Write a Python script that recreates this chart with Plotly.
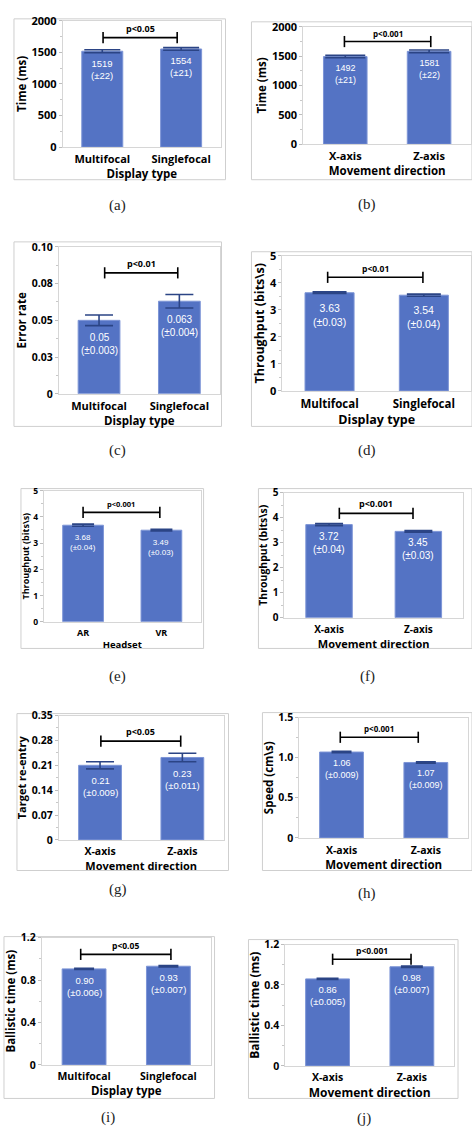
import plotly.graph_objects as go

W, H = 472, 1139

# ---------------- data ----------------
a_cats = ["Multifocal", "Singlefocal"]
a_vals = [1519, 1554]
a_errs = [22, 21]
a_text = ["1519<br>(±22)", "1554<br>(±21)"]
a_p = "p<0.05"

b_cats = ["X-axis", "Z-axis"]
b_vals = [1492, 1581]
b_errs = [21, 22]
b_text = ["1492<br>(±21)", "1581<br>(±22)"]
b_p = "p<0.001"

c_cats = ["Multifocal", "Singlefocal"]
c_vals = [0.050, 0.063]
c_errs = [0.0036, 0.0046]
c_text = ["0.05<br>(±0.003)", "0.063<br>(±0.004)"]
c_p = "p<0.01"
c_ticks = [0, 0.025, 0.05, 0.075, 0.10]
c_ticktext = ["0", "0.03", "0.05", "0.08", "0.10"]

d_cats = ["Multifocal", "Singlefocal"]
d_vals = [3.63, 3.54]
d_errs = [0.03, 0.04]
d_text = ["3.63<br>(±0.03)", "3.54<br>(±0.04)"]
d_p = "p<0.01"

e_cats = ["AR", "VR"]
e_vals = [3.68, 3.49]
e_errs = [0.04, 0.03]
e_text = ["3.68<br>(±0.04)", "3.49<br>(±0.03)"]
e_p = "p<0.001"

f_cats = ["X-axis", "Z-axis"]
f_vals = [3.72, 3.45]
f_errs = [0.04, 0.03]
f_text = ["3.72<br>(±0.04)", "3.45<br>(±0.03)"]
f_p = "p<0.001"

g_cats = ["X-axis", "Z-axis"]
g_vals = [0.210, 0.232]
g_errs = [0.010, 0.012]
g_text = ["0.21<br>(±0.009)", "0.23<br>(±0.011)"]
g_p = "p<0.05"
g_ticks = [0, 0.07, 0.14, 0.21, 0.28, 0.35]
g_ticktext = ["0", "0.07", "0.14", "0.21", "0.28", "0.35"]

h_cats = ["X-axis", "Z-axis"]
h_vals = [1.07, 0.94]
h_errs = [0.009, 0.009]
h_text = ["1.06<br>(±0.009)", "1.07<br>(±0.009)"]
h_p = "p<0.001"
h_ticks = [0, 0.5, 1.0, 1.5]
h_ticktext = ["0", "0.5", "1.0", "1.5"]

i_cats = ["Multifocal", "Singlefocal"]
i_vals = [0.905, 0.930]
i_errs = [0.006, 0.007]
i_text = ["0.90<br>(±0.006)", "0.93<br>(±0.007)"]
i_p = "p<0.05"

j_cats = ["X-axis", "Z-axis"]
j_vals = [0.86, 0.98]
j_errs = [0.005, 0.007]
j_text = ["0.86<br>(±0.005)", "0.98<br>(±0.007)"]
j_p = "p<0.001"

ticks_time = [0, 500, 1000, 1500, 2000]
ticks_tp = [0, 1, 2, 3, 4, 5]
ticks_bal = [0, 0.4, 0.8, 1.2]
ticktext_bal = ["0", "0.4", "0.8", "1.2"]

# ---------------- panel layout (pixels) ----------------
panels = [
    dict(cap="(a)", cats=a_cats, vals=a_vals, errs=a_errs, text=a_text, p=a_p,
         ytitle="Time (ms)", xtitle="Display type", ymax=2000, tv=ticks_time, tt=None, minor=250,
         plot=(63, 221, 13, 141), frame=(14, 11, 226, 174), br=(0.01, 0.95, 1734),
         cappos=(118, 200), fs=(11, 11, 11.5, 11.5, 9, 9.5), capw=(18, 18), tshift=-3),
    dict(cap="(b)", cats=b_cats, vals=b_vals, errs=b_errs, text=b_text, p=b_p,
         ytitle="Time (ms)", xtitle="Movement direction", ymax=2000, tv=ticks_time, tt=None, minor=250,
         plot=(304, 472, 19, 138), frame=(252, 14, 473, 174), br=(-0.01, 1.02, 1748),
         cappos=(368, 199), fs=(11, 11, 11.5, 11.5, 8, 9), capw=(20, 20), tshift=-3),
    dict(cap="(c)", cats=c_cats, vals=c_vals, errs=c_errs, text=c_text, p=c_p,
         ytitle="Error rate", xtitle="Display type", ymax=0.10, tv=c_ticks, tt=c_ticktext, minor=0.0125,
         plot=(59, 220, 242, 391), frame=(14, 237, 222, 424), br=(0.07, 0.98, 0.0823),
         cappos=(118, 448), fs=(10.5, 11, 11.5, 11.5, 9, 10), capw=(14, 14), tshift=-4),
    dict(cap="(d)", cats=d_cats, vals=d_vals, errs=d_errs, text=d_text, p=d_p,
         ytitle="Throughput (bits\\s)", xtitle="Display type", ymax=5, tv=ticks_tp, tt=None, minor=0.5,
         plot=(283, 472, 251, 388), frame=(252, 247, 473, 424), br=(-0.02, 0.99, 4.20),
         cappos=(368, 448), fs=(11, 11.5, 12.5, 12.5, 8.5, 10.5), capw=(17, 17), tshift=-6),
    dict(cap="(e)", cats=e_cats, vals=e_vals, errs=e_errs, text=e_text, p=e_p,
         ytitle="Throughput (bits\\s)", xtitle="Headset", ymax=5, tv=ticks_tp, tt=None, minor=0.5,
         plot=(44, 201, 489, 622), frame=(21, 487, 204, 649), br=(0.0, 0.98, 4.17),
         cappos=(118, 677), fs=(8.5, 9, 9, 9.5, 7.5, 8), capw=(11, 11), tshift=-5),
    dict(cap="(f)", cats=f_cats, vals=f_vals, errs=f_errs, text=f_text, p=f_p,
         ytitle="Throughput (bits\\s)", xtitle="Movement direction", ymax=5, tv=ticks_tp, tt=None, minor=0.5,
         plot=(285, 464, 491, 618), frame=(259, 487, 473, 649), br=(0.115, 0.94, 4.17),
         cappos=(368, 677), fs=(10, 10, 10.5, 11, 9, 10), capw=(14, 14), tshift=-3),
    dict(cap="(g)", cats=g_cats, vals=g_vals, errs=g_errs, text=g_text, p=g_p,
         ytitle="Target re-entry", xtitle="Movement direction", ymax=0.35, tv=g_ticks, tt=g_ticktext, minor=0.035,
         plot=(59, 224, 717, 843), frame=(17, 715, 229, 874), br=(0.01, 0.98, 0.278),
         cappos=(118, 893), fs=(10.5, 10.5, 11, 11, 9, 9.5), capw=(14, 14), tshift=-4),
    dict(cap="(h)", cats=h_cats, vals=h_vals, errs=h_errs, text=h_text, p=h_p,
         ytitle="Speed (cm\\s)", xtitle="Movement direction", ymax=1.5, tv=h_ticks, tt=h_ticktext, minor=0.25,
         plot=(300, 469, 719, 841), frame=(263, 714, 473, 874), br=(-0.015, 0.91, 1.254),
         cappos=(368, 897), fs=(10.5, 10.5, 11.5, 11.5, 8, 9), capw=(10, 10), tshift=-3),
    dict(cap="(i)", cats=i_cats, vals=i_vals, errs=i_errs, text=i_text, p=i_p,
         ytitle="Ballistic time (ms)", xtitle="Display type", ymax=1.2, tv=ticks_bal, tt=ticktext_bal, minor=0.2,
         plot=(42, 211, 942, 1071), frame=(4, 941, 215, 1105), br=(-0.04, 1.03, 1.042),
         cappos=(108, 1124), fs=(10.5, 10.5, 11.5, 11.5, 8.5, 9.5), capw=(10, 10), tshift=-3),
    dict(cap="(j)", cats=j_cats, vals=j_vals, errs=j_errs, text=j_text, p=j_p,
         ytitle="Ballistic time (ms)", xtitle="Movement direction", ymax=1.2, tv=ticks_bal, tt=ticktext_bal, minor=0.2,
         plot=(286, 455, 949, 1072), frame=(249, 944, 459, 1105), br=(0.06, 0.99, 1.054),
         cappos=(365, 1125), fs=(10.5, 10.5, 12, 12, 8.5, 9.5), capw=(11, 11), tshift=-3),
]

BAR = "#5473C4"
BAR_EDGE = "#7D95D6"
ERR = "#2B4485"
AXLINE = "#D6D6D6"
FRAME = "#CFCFCF"
SANS = "Open Sans"
TXT = "Liberation Sans"
SERIF = "Liberation Serif"


def px_x(v):
    return v / W


def px_y(v):
    return 1 - v / H


fig = go.Figure()
annotations = []
shapes = []
layout = {}

for k, pnl in enumerate(panels, start=1):
    xa = "x" if k == 1 else f"x{k}"
    ya = "y" if k == 1 else f"y{k}"
    xl = "xaxis" if k == 1 else f"xaxis{k}"
    yl = "yaxis" if k == 1 else f"yaxis{k}"
    x0, x1, yt, yb = pnl["plot"]
    f_tick, f_cat, f_ytitle, f_xtitle, f_p, f_bar = pnl["fs"]

    fig.add_trace(go.Bar(
        x=[0, 1], y=pnl["vals"], width=0.52, xaxis=xa, yaxis=ya,
        marker=dict(color=BAR, line=dict(color=BAR_EDGE, width=1)),
        error_y=dict(type="data", array=pnl["errs"], visible=True, color=ERR,
                     thickness=1.6, width=pnl["capw"][0]),
        showlegend=False, hoverinfo="skip",
    ))

    bx0, bx1, by = pnl["br"]
    fig.add_trace(go.Scatter(
        x=[bx0, bx1], y=[by, by], xaxis=xa, yaxis=ya, mode="lines+markers",
        line=dict(color="black", width=1.6),
        marker=dict(symbol="line-ns", size=8, line=dict(color="black", width=1.6)),
        showlegend=False, hoverinfo="skip", cliponaxis=False,
    ))

    layout[xl] = dict(
        domain=[px_x(x0), px_x(x1)], range=[-0.5, 1.5], anchor=ya,
        tickvals=[0, 1], ticktext=pnl["cats"], ticks="", ticklabelstandoff=2,
        tickfont=dict(family=SANS, size=f_cat, color="black", weight="bold"),
        showline=True, mirror=True, linecolor=AXLINE, linewidth=1,
        showgrid=False, zeroline=False, fixedrange=True,
        title=dict(text=pnl["xtitle"], standoff=3,
                   font=dict(family=SANS, size=f_xtitle, color="black", weight="bold")),
    )
    yd = dict(
        domain=[px_y(yb), px_y(yt)], range=[0, pnl["ymax"]], anchor=xa,
        tickvals=pnl["tv"], ticks="outside", ticklen=3, tickcolor="#BDBDBD",
        tickfont=dict(family=SANS, size=f_tick, color="black", weight="bold"),
        minor=dict(dtick=pnl["minor"], ticks="outside", ticklen=2, tickcolor="#C8C8C8"),
        showline=True, mirror=True, linecolor=AXLINE, linewidth=1,
        showgrid=False, zeroline=False, fixedrange=True,
        title=dict(text=pnl["ytitle"], standoff=2,
                   font=dict(family=SANS, size=f_ytitle, color="black", weight="bold")),
    )
    if pnl["tt"] is not None:
        yd["ticktext"] = pnl["tt"]
    layout[yl] = yd

    # p-value text
    annotations.append(dict(
        x=(bx0 + bx1) / 2, y=by, xref=xa, yref=ya, text=pnl["p"], showarrow=False,
        yanchor="bottom", yshift=1,
        font=dict(family=SANS, size=f_p, color="black", weight="bold"),
    ))
    # bar value labels
    for idx, (v, e, t) in enumerate(zip(pnl["vals"], pnl["errs"], pnl["text"])):
        annotations.append(dict(
            x=idx, y=v - e, xref=xa, yref=ya, text=t, showarrow=False,
            yanchor="top", yshift=pnl["tshift"],
            font=dict(family=TXT, size=f_bar, color="white"),
        ))
    # caption
    cx, cy = pnl["cappos"]
    annotations.append(dict(
        x=px_x(cx), y=px_y(cy), xref="paper", yref="paper", text=pnl["cap"],
        showarrow=False, xanchor="center", yanchor="middle",
        font=dict(family=SERIF, size=15, color="#222222"),
    ))
    # outer frame
    fx0, fy0, fx1, fy1 = pnl["frame"]
    shapes.append(dict(
        type="rect", xref="paper", yref="paper",
        x0=px_x(fx0), x1=px_x(fx1), y0=px_y(fy1), y1=px_y(fy0),
        line=dict(color=FRAME, width=1), fillcolor="rgba(0,0,0,0)", layer="below",
    ))

fig.update_layout(
    width=W, height=H, margin=dict(l=0, r=0, t=0, b=0),
    paper_bgcolor="white", plot_bgcolor="white",
    annotations=annotations, shapes=shapes, showlegend=False,
    **layout,
)

fig.write_html(
    "out.html",
    config={"displayModeBar": False},
    post_script="document.body.style.margin='0';document.body.style.overflow='hidden';"
                "document.documentElement.style.overflow='hidden';",
)
